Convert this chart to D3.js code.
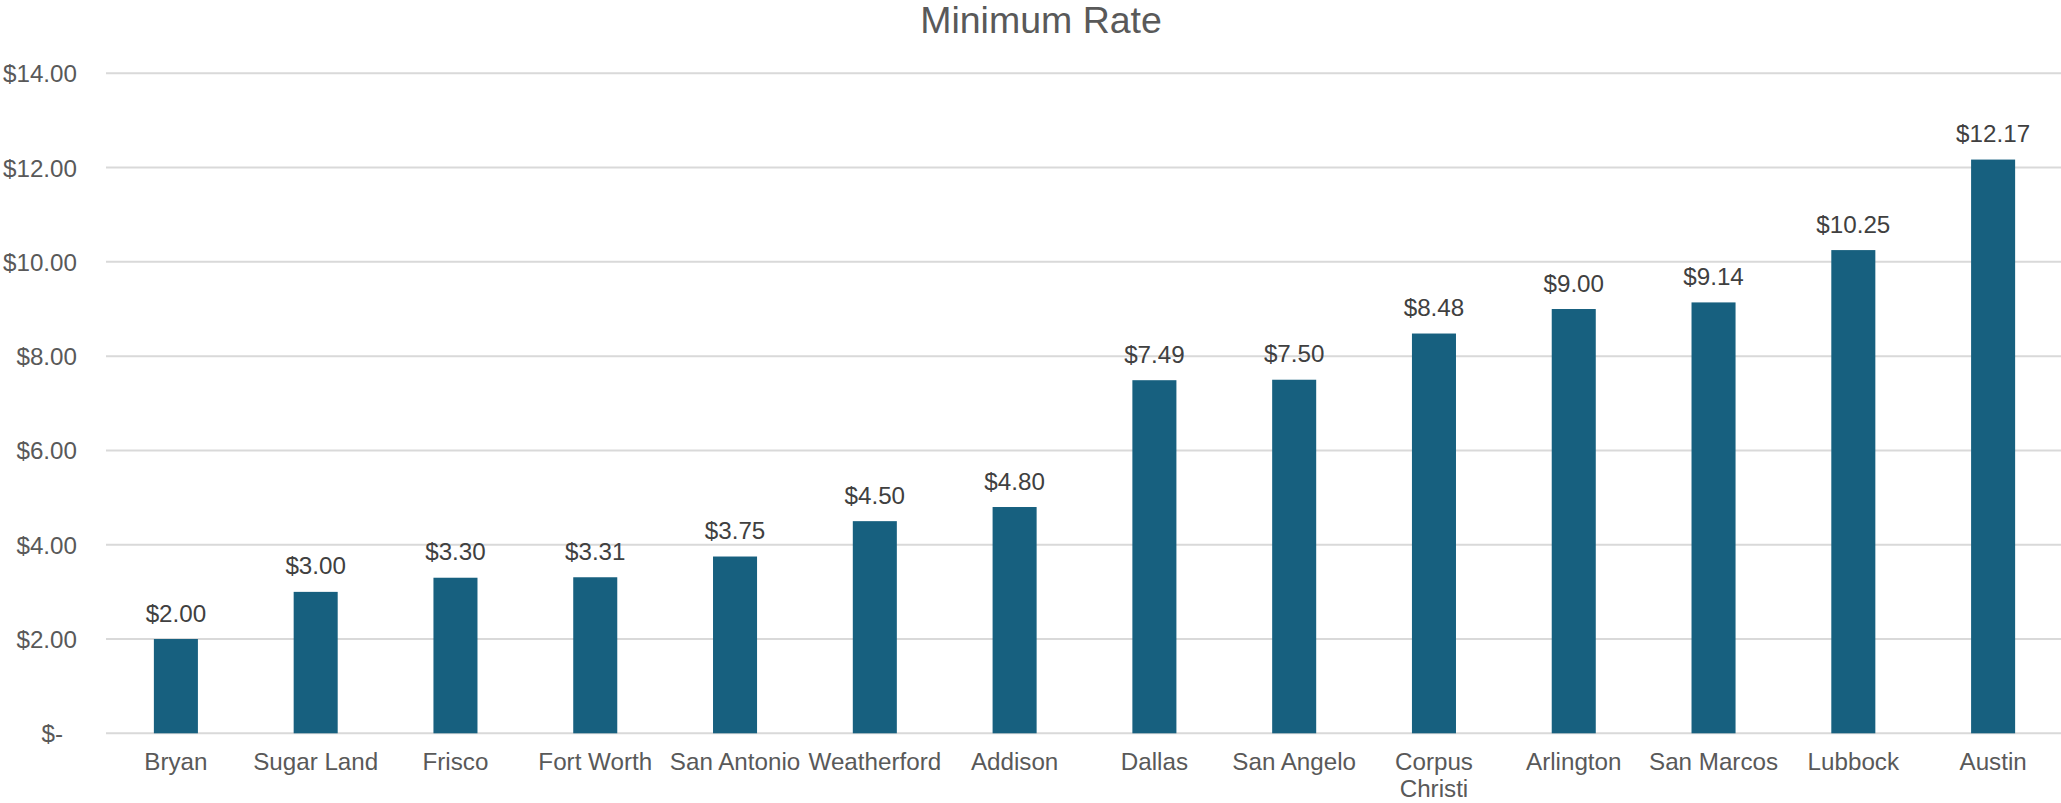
<!DOCTYPE html>
<html>
<head>
<meta charset="utf-8">
<script src="https://cdn.jsdelivr.net/npm/d3@7"></script>
<style>
  html, body { margin: 0; padding: 0; background: #ffffff; }
  svg { display: block; font-family: "Liberation Sans", Arial, Helvetica, sans-serif; }
</style>
</head>
<body>
<svg id="chart" width="2061" height="803"></svg>
<script>
const categories = ["Bryan", "Sugar Land", "Frisco", "Fort Worth", "San Antonio", "Weatherford", "Addison", "Dallas", "San Angelo", "Corpus Christi", "Arlington", "San Marcos", "Lubbock", "Austin"];
const values = [2.00, 3.00, 3.30, 3.31, 3.75, 4.50, 4.80, 7.49, 7.50, 8.48, 9.00, 9.14, 10.25, 12.17];
const yTicks = [0, 2, 4, 6, 8, 10, 12, 14];
const title = "Minimum Rate";

const svg = d3.select("#chart");
const W = 2061, H = 803;
const plot = { left: 106, right: 2063, top: 73.3, bottom: 733.3 };
const FS = 24.2;

const x = d3.scaleBand()
  .domain(categories)
  .range([plot.left, plot.right])
  .paddingInner(0.685)
  .paddingOuter(0.3425);

const y = d3.scaleLinear()
  .domain([0, 14])
  .range([plot.bottom, plot.top]);

const fmt = v => v === 0 ? "$-" : "$" + d3.format(".2f")(v);

// Title
svg.append("text")
  .attr("x", 1041)
  .attr("y", 32.5)
  .attr("text-anchor", "middle")
  .attr("font-size", 37.5)
  .attr("fill", "#595959")
  .text(title);

// Gridlines
svg.append("g")
  .selectAll("line")
  .data(yTicks)
  .join("line")
  .attr("x1", plot.left)
  .attr("x2", W)
  .attr("y1", d => y(d))
  .attr("y2", d => y(d))
  .attr("stroke", "#d9d9d9")
  .attr("stroke-width", 2);

// Y axis
const yAxis = svg.append("g")
  .attr("transform", `translate(${77},0)`)
  .call(d3.axisLeft(y).tickValues(yTicks).tickFormat(fmt).tickSize(0).tickPadding(0));
yAxis.select(".domain").remove();
yAxis.selectAll("text")
  .attr("font-size", FS)
  .attr("fill", "#595959")
  .attr("font-family", "'Liberation Sans', Arial, sans-serif")
  .attr("dy", "0.35em")
  .attr("dx", d => d === 0 ? -14 : 0);

// Bars
svg.append("g")
  .selectAll("rect")
  .data(values)
  .join("rect")
  .attr("x", (d, i) => x(categories[i]))
  .attr("width", x.bandwidth())
  .attr("y", d => y(d))
  .attr("height", d => y(0) - y(d))
  .attr("fill", "#17607f");

// Value labels
svg.append("g")
  .selectAll("text")
  .data(values)
  .join("text")
  .attr("x", (d, i) => x(categories[i]) + x.bandwidth() / 2)
  .attr("y", d => y(d) - 17.5)
  .attr("text-anchor", "middle")
  .attr("font-size", FS)
  .attr("fill", "#404040")
  .text(d => fmt(d));

// X axis
const xAxis = svg.append("g")
  .attr("transform", `translate(0,${plot.bottom})`)
  .call(d3.axisBottom(x).tickSize(0).tickPadding(0));
xAxis.select(".domain").remove();
xAxis.selectAll("text")
  .attr("font-size", FS)
  .attr("fill", "#595959")
  .attr("font-family", "'Liberation Sans', Arial, sans-serif")
  .attr("dy", null)
  .attr("y", 37)
  .each(function () { wrap(d3.select(this), x.step()); });

function wrap(text, width) {
  const words = text.text().split(/\s+/);
  if (text.node().getComputedTextLength() <= width) return;
  text.text(null);
  let line = [];
  let lineNo = 0;
  let tspan = text.append("tspan").attr("x", 0).attr("y", 37);
  words.forEach(w => {
    line.push(w);
    tspan.text(line.join(" "));
    if (tspan.node().getComputedTextLength() > width && line.length > 1) {
      line.pop();
      tspan.text(line.join(" "));
      line = [w];
      lineNo++;
      tspan = text.append("tspan").attr("x", 0).attr("y", 37 + lineNo * 27).text(w);
    }
  });
  if (lineNo === 0 && words.length > 1) {
    text.text(null);
    words.forEach((w, i) => {
      text.append("tspan").attr("x", 0).attr("y", 37 + i * 27).text(w);
    });
  }
}
</script>
</body>
</html>
